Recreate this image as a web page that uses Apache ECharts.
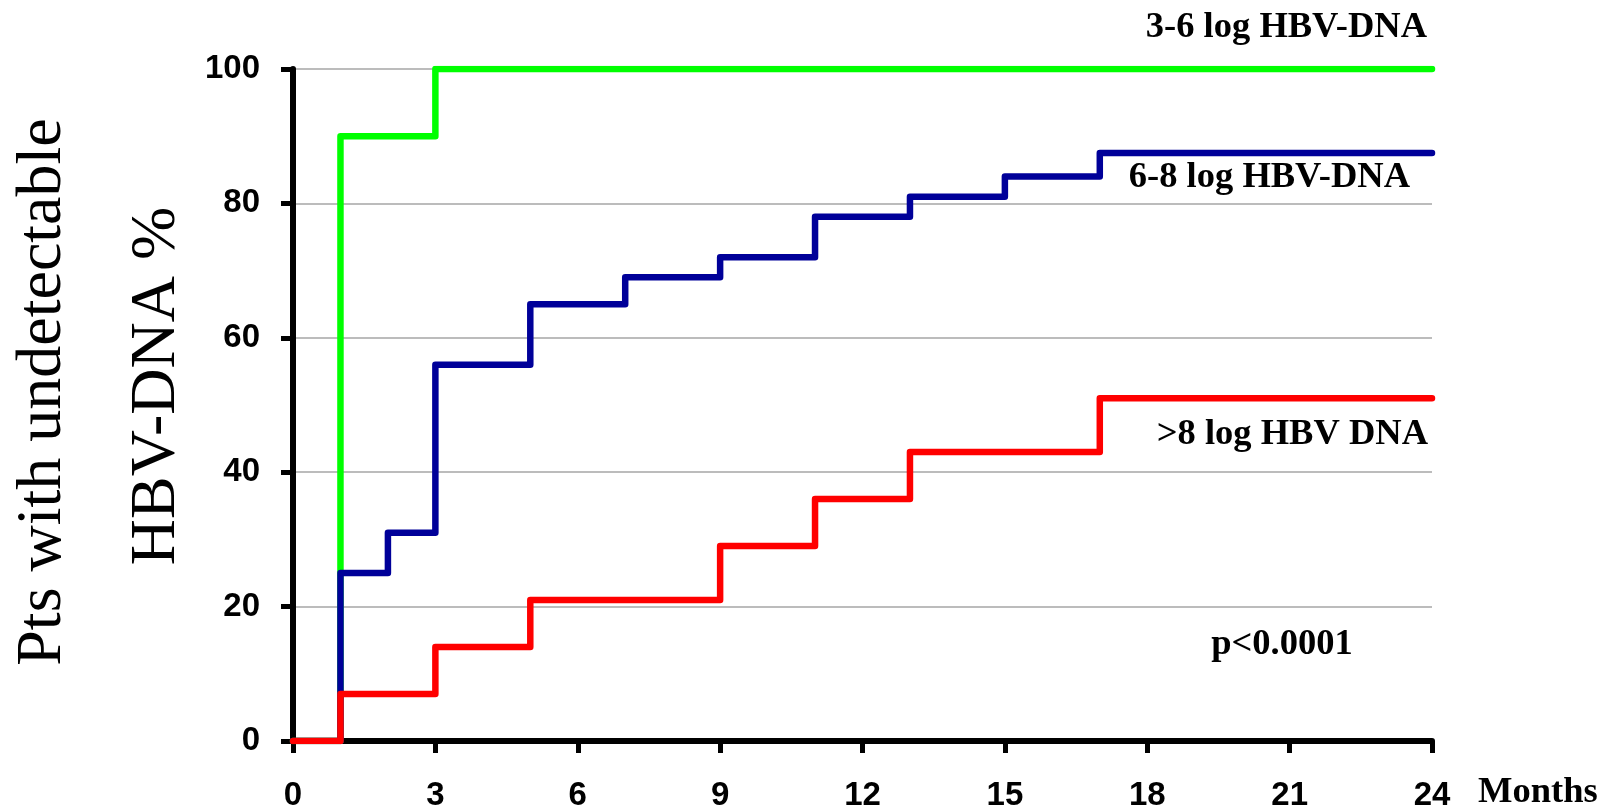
<!DOCTYPE html>
<html>
<head>
<meta charset="utf-8">
<script src="https://cdn.jsdelivr.net/npm/echarts@6/dist/echarts.min.js"></script>
<style>
  html, body { margin: 0; padding: 0; background: #fff; }
  #chart { width: 1618px; height: 812px; }
</style>
</head>
<body>
<div id="chart"></div>
<script>
// months where each curve steps, and the % reached at that month
const greenMonths = [0, 1, 3, 24]
const greenPct = [0, 90, 100, 100]

const blueMonths = [0, 1, 2, 3, 5, 7, 9, 11, 13, 15, 17, 24]
const bluePct = [0, 25, 31, 56, 65, 69, 72, 78, 81, 84, 87.5, 87.5]

const redMonths = [0, 1, 3, 5, 9, 11, 13, 17, 24]
const redPct = [0, 7, 14, 21, 29, 36, 43, 51, 51]

const seriesNames = ['3-6 log HBV-DNA', '6-8 log HBV-DNA', '>8 log HBV DNA']
const yTitle = ['Pts with undetectable', 'HBV-DNA %']

const pairs = (xs, ys) => xs.map((x, i) => [x, ys[i]])

const serif = '"Liberation Serif", "Times New Roman", serif'
const sans = '"Liberation Sans", Arial, sans-serif'

const stepLine = (name, data, color) => ({
  name,
  type: 'line',
  step: 'end',
  data,
  symbol: 'none',
  silent: true,
  lineStyle: { color, width: 6.5, join: 'round', cap: 'round' },
})

const label = (text, x, y, align, size) => ({
  type: 'text',
  x,
  y,
  style: {
    text,
    font: `bold ${size}px ${serif}`,
    fill: '#000',
    align,
    verticalAlign: 'middle',
  },
})

const chart = echarts.init(document.getElementById('chart'), null, { renderer: 'canvas' })

chart.setOption({
  backgroundColor: '#FFFFFF',
  animation: false,
  grid: { left: 293, top: 69, width: 1139, height: 673, containLabel: false },
  xAxis: {
    type: 'value',
    min: 0,
    max: 24,
    interval: 3,
    axisLine: { onZero: false, lineStyle: { color: '#000', width: 6 } },
    axisTick: { show: true, length: 12, lineStyle: { color: '#000', width: 5 } },
    splitLine: { show: false },
    axisLabel: { margin: 38, color: '#000', fontFamily: sans, fontWeight: 'bold', fontSize: 33 },
  },
  yAxis: {
    type: 'value',
    min: 0,
    max: 100,
    interval: 20,
    axisLine: { show: true, lineStyle: { color: '#000', width: 6 } },
    axisTick: { show: true, length: 12, lineStyle: { color: '#000', width: 5 } },
    splitLine: { show: true, lineStyle: { color: '#a6a6a6', width: 1.5 } },
    axisLabel: { margin: 33, color: '#000', fontFamily: sans, fontWeight: 'bold', fontSize: 33 },
  },
  series: [
    stepLine(seriesNames[0], pairs(greenMonths, greenPct), '#00FF00'),
    stepLine(seriesNames[1], pairs(blueMonths, bluePct), '#000099'),
    stepLine(seriesNames[2], pairs(redMonths, redPct), '#FF0000'),
  ],
  graphic: [
    label(seriesNames[0], 1427, 28, 'right', 36.5),
    label(seriesNames[1], 1410, 178, 'right', 36.5),
    label(seriesNames[2], 1428, 435, 'right', 36.5),
    label('p<0.0001', 1282, 645, 'center', 36.5),
    label('Months', 1478, 793, 'left', 36.5),
    {
      type: 'text',
      x: 43,
      y: 392,
      rotation: Math.PI / 2,
      style: { text: yTitle[0], font: `64px ${serif}`, fill: '#000', align: 'center', verticalAlign: 'middle' },
    },
    {
      type: 'text',
      x: 157,
      y: 386,
      rotation: Math.PI / 2,
      style: { text: yTitle[1], font: `64px ${serif}`, fill: '#000', align: 'center', verticalAlign: 'middle' },
    },
  ],
})
</script>
</body>
</html>
